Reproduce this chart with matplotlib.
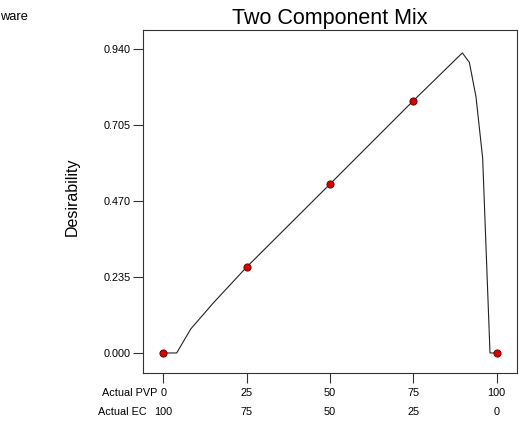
import matplotlib.pyplot as plt
from matplotlib.transforms import blended_transform_factory

plt.rcParams['font.family'] = ['Liberation Sans', 'DejaVu Sans']

# desirability curve
pvp = [0, 4, 8.2, 15, 25, 50, 75, 89.7, 91.8, 93.8, 95.8, 98.0, 100]
desir = [0, 0, 0.074, 0.155, 0.266, 0.523, 0.781, 0.929, 0.900, 0.793, 0.603, 0.0, 0.0]

# design points
pt_pvp = [0, 25, 50, 75, 100]
pt_desir = [0, 0.266, 0.523, 0.781, 0]

xticks = [0, 25, 50, 75, 100]
pvp_labels = ['0', '25', '50', '75', '100']
ec_labels = ['100', '75', '50', '25', '0']
yticks = [0.0, 0.235, 0.470, 0.705, 0.940]

W, H = 522, 422
fig = plt.figure(figsize=(W / 100, H / 100), dpi=100)
ax = fig.add_axes([143 / W, 1 - 373 / H, (517 - 143) / W, (373 - 30) / H])

ax.plot(pvp, desir, color='#222222', lw=0.8, zorder=2)
ax.plot(pt_pvp, pt_desir, 'o', ms=5.2, mfc='#dd0000', mec='#550000', mew=0.6,
        zorder=3, clip_on=False)

ax.set_xlim(-6.1, 106.1)
ax.set_ylim(-0.062, 1.0)
ax.set_yticks(yticks)
ax.set_yticklabels(['%.3f' % v for v in yticks])
ax.set_xticks(xticks)
ax.tick_params(axis='both', direction='out', length=7, width=0.8, color='#333333',
               labelsize=7.8, pad=2)
ax.tick_params(axis='x', labelbottom=False)
for s in ax.spines.values():
    s.set_color('#333333')
    s.set_linewidth(0.8)

# two rows of x labels
tr = blended_transform_factory(ax.transData, fig.transFigure)
for x, a, b in zip(xticks, pvp_labels, ec_labels):
    ax.text(x, 1 - 392.7 / H, a, transform=tr, ha='center', va='center', fontsize=7.8)
    ax.text(x, 1 - 411.7 / H, b, transform=tr, ha='center', va='center', fontsize=7.8)
fig.text(157 / W, 1 - 392.7 / H, 'Actual PVP', ha='right', va='center', fontsize=7.8)
fig.text(147 / W, 1 - 411.7 / H, 'Actual EC', ha='right', va='center', fontsize=7.8)

fig.text(72 / W, 1 - 197 / H, 'Desirability', rotation=90, ha='center', va='center',
         fontsize=11.5)
fig.text(330 / W, 1 - 24 / H, 'Two Component Mix', ha='center', va='baseline',
         fontsize=15.5)
fig.text(0 / W, 1 - 20 / H, 'ware', ha='left', va='baseline', fontsize=9.3)

fig.savefig('out.png', dpi=100)
